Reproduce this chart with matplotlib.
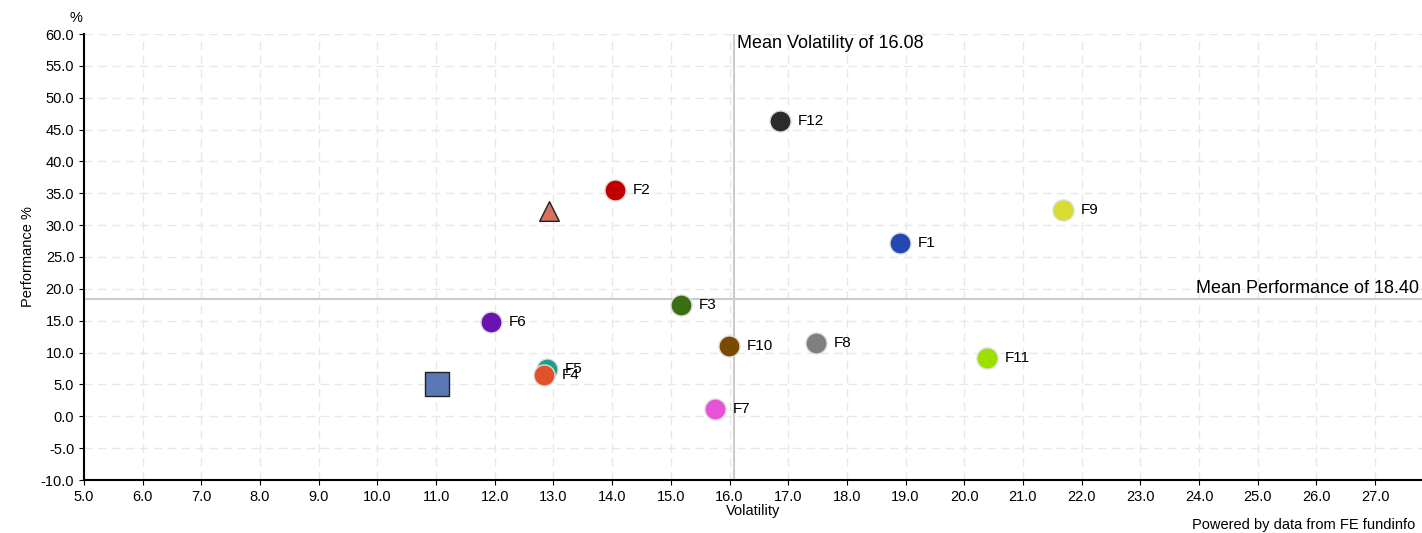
import matplotlib.pyplot as plt
import numpy as np

plt.rcParams['font.family'] = ['Liberation Sans', 'DejaVu Sans']

names = ['F12', 'F2', 'F9', 'F1', 'F3', 'F6', 'F10', 'F8', 'F11', 'F5', 'F4', 'F7']
vol = [16.86, 14.05, 21.68, 18.9, 15.17, 11.94, 15.99, 17.47, 20.39, 12.89, 12.84, 15.75]
perf = [46.3, 35.5, 32.4, 27.2, 17.5, 14.8, 11.0, 11.5, 9.1, 7.4, 6.5, 1.1]
colors = ['#2b2b2b', '#c00000', '#d8dc30', '#2548b0', '#3b6e12', '#6a14b0', '#7a4a00',
          '#7f7f7f', '#9de000', '#1f9e8a', '#e2522a', '#e652d8']
tri = (12.92, 32.2)
sq = (11.02, 5.1)
mean_vol = 16.08
mean_perf = 18.40

fig = plt.figure(figsize=(14.22, 5.33), dpi=100)
ax = fig.add_axes([84/1422, 53/533, 1338/1422, 446/533])
ax.set_xlim(5, 27.8)
ax.set_ylim(-10, 60)
ax.set_xticks(np.arange(5, 28, 1))
ax.set_xticklabels([f'{v:.1f}' for v in np.arange(5, 28, 1)], fontsize=10.5)
ax.set_yticks(np.arange(-10, 61, 5))
ax.set_yticklabels([f'{v:.1f}' for v in np.arange(-10, 61, 5)], fontsize=10.5)
ax.grid(True, color='#e8e8e8', linestyle=(0, (6, 4)), linewidth=1)
ax.set_axisbelow(True)
for s in ['top', 'right']:
    ax.spines[s].set_visible(False)
ax.spines['left'].set_linewidth(1.5)
ax.spines['bottom'].set_linewidth(1.5)

ax.axvline(mean_vol, color='#cccccc', lw=1.5, zorder=1)
ax.axhline(mean_perf, color='#cccccc', lw=1.5, zorder=1)
ax.text(mean_vol + 0.05, 58.5, f'Mean Volatility of {mean_vol:.2f}', fontsize=13, va='center')
ax.text(27.75, mean_perf + 0.3, f'Mean Performance of {mean_perf:.2f}', fontsize=13,
        ha='right', va='bottom')

for n, x, y, c in zip(names, vol, perf, colors):
    ax.scatter(x, y, s=230, color=c, edgecolor='#dddddd', linewidth=1, zorder=3)
    ax.text(x + 0.3, y, n, fontsize=11, va='center', zorder=4)
ax.scatter(*tri, marker='^', s=200, color='#d9705c', edgecolor='#222222', zorder=3)
ax.scatter(*sq, marker='s', s=280, color='#5a78b4', edgecolor='#222222', zorder=3)

ax.set_xlabel('Volatility', fontsize=10.5, labelpad=0)
ax.set_ylabel('Performance %', fontsize=10.5)
fig.text(76/1422, 1 - 18/533, '%', fontsize=10.5, ha='center', va='center')
fig.text(1415/1422, 1 - 525/533, 'Powered by data from FE fundinfo', fontsize=10.5,
         ha='right', va='center')
fig.savefig('out.png')
